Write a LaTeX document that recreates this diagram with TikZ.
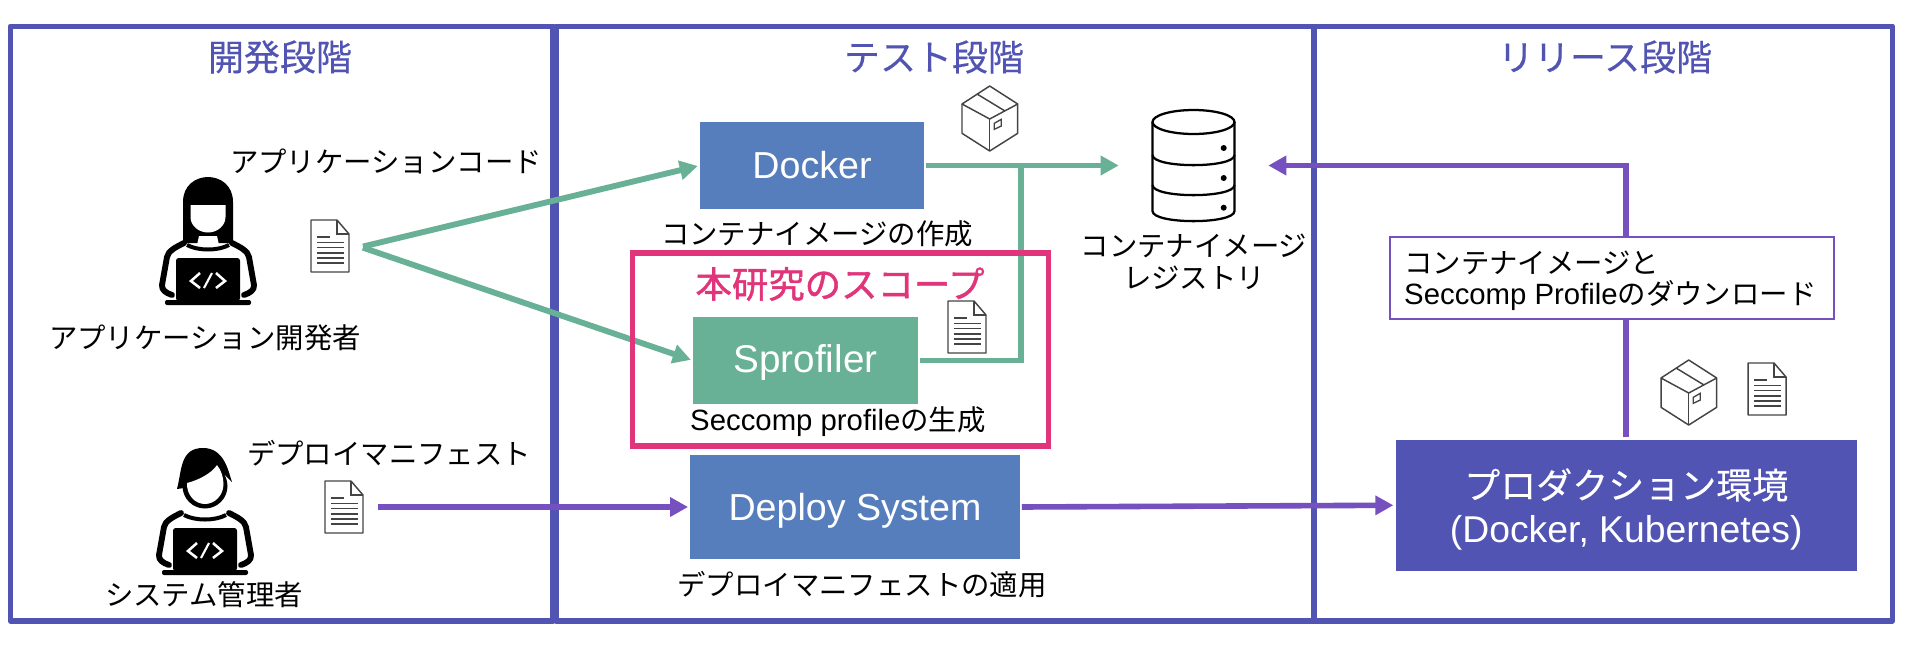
\documentclass[tikz,border=0pt]{standalone}
\usepackage{fontspec}
\setmainfont{Noto Sans CJK JP}
\newfontfamily\latinfont{Liberation Sans}
\newfontfamily\heavyfont[FakeBold=1.3]{Noto Sans CJK JP}
\newfontfamily\mediumfont[FakeBold=0.25]{Noto Sans CJK JP}
\usetikzlibrary{arrows.meta}
\definecolor{stageblue}{HTML}{5154B2}
\definecolor{arrowgreen}{HTML}{68B096}
\definecolor{arrowpurple}{HTML}{7550BE}
\definecolor{scopepink}{HTML}{E0357A}
\definecolor{toolblue}{HTML}{567EBD}
\definecolor{iconink}{HTML}{444444}
\tikzset{
	stageframe/.style={draw=stageblue, line width=4pt, line join=round},
	stagetitle/.style={text=stageblue, font=\mediumfont\fontsize{27}{30}\selectfont},
	caption/.style={font=\fontsize{21.3}{23.6}\selectfont, align=center},
	toolbox/.style={fill=toolblue, text=white, font=\latinfont\fontsize{28.2}{32}\selectfont},
	greenline/.style={draw=arrowgreen, line width=4.4pt, shorten <=1.5pt, shorten >=1.5pt},
	greenarrow/.style={greenline, -{Triangle[length=13.5pt,width=14pt]}},
	purpleline/.style={draw=arrowpurple, line width=4.2pt, shorten <=1.5pt, shorten >=1.5pt},
	purplearrow/.style={purpleline, -{Triangle[length=13.5pt,width=14pt]}},
	docicon/.pic={
		\draw[iconink, line width=1.1pt, line join=round] (0,0) -- (26,0) -- (38,14) -- (38,52) -- (0,52) -- cycle;
		\draw[iconink, line width=.9pt] (26,0) -- (26,14) -- (38,14);
		\draw[iconink, line width=.9pt] (6,17) -- (19,17);
		\foreach \rowy in {22.5,27.7,33,38,43}
			\draw[iconink, line width=.9pt] (6,\rowy) -- (33,\rowy);
	},
	boxicon/.pic={
		\draw[iconink, line width=1.1pt, line join=round] (0,18) -- (27.7,0) -- (55.7,18) -- (55.7,47.3) -- (27.7,65) -- (0,47.3) -- cycle;
		\draw[iconink, line width=1.1pt] (0,18) -- (27.7,33) -- (55.7,18);
		\draw[iconink, line width=1.1pt] (27.7,33) -- (27.7,65);
		\draw[iconink, line width=1.1pt] (15,8) -- (43,25);
		\draw[iconink, line width=1pt] (32.3,37.3) -- (39.3,33.3) -- (39.3,40) -- (32.3,43.3) -- cycle;
	},
	personbody/.pic={
		\fill[rounded corners=1.5pt] (-43,-5) rectangle (43,0);
		\fill[rounded corners=2pt] (-32,-4) -- (-32,-47) -- (32,-47) -- (32,-4) -- cycle;
		\draw[white, line width=1.9pt] (-8,-32) -- (-17,-24) -- (-8,-17);
		\draw[white, line width=1.9pt] (8,-32) -- (17,-24) -- (8,-17);
		\draw[white, line width=1.6pt] (-4,-17) -- (4,-32);
		\draw[line width=4.4pt, line cap=round, line join=round] (-24,-62) .. controls (-32,-58) and (-40,-54) .. (-41,-48) -- (-46,-20) .. controls (-46.5,-15) and (-42,-12) .. (-36,-10);
		\draw[line width=4.4pt, line cap=round, line join=round] (24,-62) .. controls (32,-58) and (40,-54) .. (41,-48) -- (46,-20) .. controls (46.5,-15) and (42,-12) .. (36,-10);
		\draw[line width=3pt] (-21,-60) .. controls (-10,-54) and (10,-54) .. (21,-60);
	},
	devperson/.pic={
		\pic {personbody};
		\fill (-25,-62) -- (-25,-103) .. controls (-25,-120) and (-12,-128) .. (0,-128) .. controls (12,-128) and (25,-120) .. (25,-103) -- (25,-62) -- cycle;
		\fill[white] (-17.5,-100) -- (17.5,-100) -- (17.5,-88) .. controls (17.5,-79) and (9,-72.5) .. (0,-72.5) .. controls (-9,-72.5) and (-17.5,-79) .. (-17.5,-88) -- cycle;
		\fill[white] (-9,-69) -- (9,-69) -- (11,-60) -- (-11,-60) -- cycle;
	},
	adminperson/.pic={
		\pic {personbody};
		\fill (0,-89) circle (22.5);
		\fill (-28,-86) .. controls (-23,-105) and (-25,-127) .. (-2,-127) .. controls (19,-127) and (23,-105) .. (27,-93) -- (20,-100) -- (0,-90) -- cycle;
		\fill[white] (-18,-92) .. controls (-6,-95) and (7,-102) .. (12,-110) .. controls (16,-105) and (18.5,-98) .. (18.5,-91) .. controls (18.5,-80) and (10,-71) .. (0,-71) .. controls (-10,-71) and (-18.5,-80) .. (-18,-92) -- cycle;
		\fill[white] (-10,-66) -- (10,-66) -- (12,-60) -- (-12,-60) -- cycle;
	}
}
\begin{document}
\begin{tikzpicture}[x=0.75pt,y=-0.75pt]
	\useasboundingbox (0,0) rectangle (1906,644);
	\node[stageframe, minimum width=407pt, minimum height=446pt] (devstage) at (281.5,323.5) {};
	\node[stageframe, minimum width=568.5pt, minimum height=446pt] (teststage) at (935,323.5) {};
	\node[stageframe, minimum width=433.5pt, minimum height=446pt] (relstage) at (1603.5,323.5) {};
	\node[stagetitle] (devtitle) at (280,57) {開発段階};
	\node[stagetitle] (testtitle) at (934,57) {テスト段階};
	\node[stagetitle] (reltitle) at (1605,57) {リリース段階};

	\pic at (208,305) {devperson};
	\pic at (205,575) {adminperson};
	\pic at (311,220) {docicon};
	\pic at (325,481) {docicon};
	\pic at (948,301) {docicon};
	\pic at (1748,363) {docicon};
	\pic at (962,86) {boxicon};
	\pic at (1661,360) {boxicon};

	\node[caption] (codelabel) at (386,161) {アプリケーションコード};
	\node[caption] (devlabel) at (205,338) {アプリケーション開発者};
	\node[caption] (manifestlabel) at (389,453) {デプロイマニフェスト};
	\node[caption] (adminlabel) at (204,595) {システム管理者};

	\node[toolbox, minimum width=168pt, minimum height=65.25pt] (docker) at (812,165.5) {Docker};
	\node[toolbox, fill=arrowgreen, minimum width=168.75pt, minimum height=65.25pt, text depth=3pt, font=\latinfont\fontsize{29}{32}\selectfont] (sprofiler) at (805.5,360.5) {Sprofiler};
	\node[toolbox, minimum width=247pt, minimum height=78pt, text depth=0pt] (deploy) at (855,507) {Deploy System};
	\node[caption] (imagelabel) at (817,233.5) {コンテナイメージの作成};
	\node[caption] (profilelabel) at (838,422) {{\latinfont\fontsize{22}{23.6}\selectfont Seccomp profile}の生成};
	\node[caption] (applylabel) at (862,585) {デプロイマニフェストの適用};

	\node[minimum width=108.75pt, minimum height=86pt, inner sep=0pt] (registry) at (1193.5,165.5) {};
	\draw[line width=1.7pt] (1152.5,122) -- (1152.5,211) .. controls (1152.5,224.5) and (1234.5,224.5) .. (1234.5,211) -- (1234.5,122);
	\draw[line width=1.7pt] (1193.5,122) circle [x radius=41, y radius=12];
	\draw[line width=1.7pt] (1152.5,155) .. controls (1152.5,168.5) and (1234.5,168.5) .. (1234.5,155);
	\draw[line width=1.7pt] (1152.5,185) .. controls (1152.5,198.5) and (1234.5,198.5) .. (1234.5,185);
	\foreach \doty in {148,178,207.7}
		\fill (1223.7,\doty) circle (3);
	\node[caption] (registrylabel) at (1194,262) {コンテナイメージ\\レジストリ};

	\node[fill=stageblue, text=white, align=center, minimum width=346pt, minimum height=98.6pt, text depth=0pt, font=\mediumfont\fontsize{27}{32.6}\selectfont] (prod) at (1626.25,505.25) {プロダクション環境\\{\latinfont\fontsize{28}{32.6}\selectfont (Docker, Kubernetes)}};

	\coordinate (fork) at (361,247);
	\coordinate (manifestout) at (375.5,507);
	\coordinate (junction) at (1021,165.5);
	\draw[greenarrow] (fork) -- (docker.west);
	\draw[greenarrow] (fork) -- (sprofiler.west);
	\draw[greenarrow] (docker.east) -- (registry.west);
	\draw[greenline, shorten >=0pt] (sprofiler.east) -| (junction);
	\draw[purplearrow] (manifestout) -- (deploy.west);
	\draw[purplearrow] (deploy.east) -- (prod.west);
	\draw[purplearrow] (prod.north) -- (prod.north |- registry.east) -- (registry.east);

	\node[draw=scopepink, line width=4pt, minimum width=312pt, minimum height=144.75pt] (scope) at (840.3,349.5) {};
	\node[text=scopepink, font=\heavyfont\fontsize{27.3}{30}\selectfont] (scopetitle) at (840,284) {本研究のスコープ};
	\node[draw=arrowpurple, line width=1.5pt, fill=white, minimum width=333pt, minimum height=61.5pt] (download) at (1612,278) {};
	\node[caption, align=left, anchor=west] (downloadlabel) at (1399.5,281) {コンテナイメージと\\{\latinfont\fontsize{22}{23.6}\selectfont Seccomp Profile}のダウンロード};
\end{tikzpicture}
\end{document}
